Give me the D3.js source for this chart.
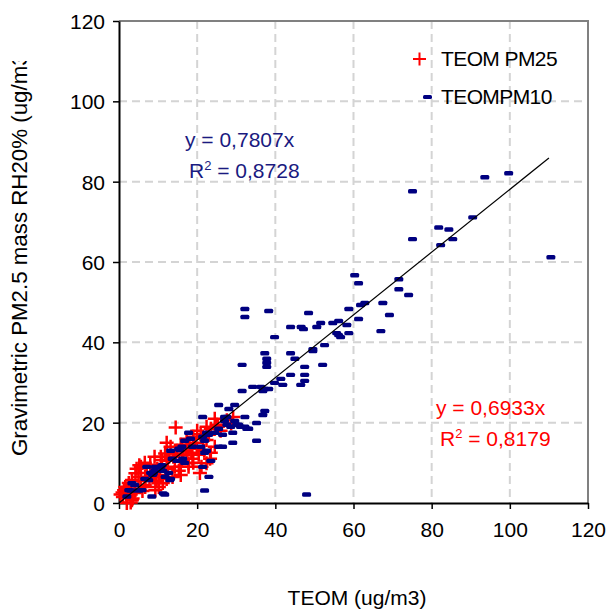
<!DOCTYPE html>
<html><head><meta charset="utf-8">
<script src="https://cdn.jsdelivr.net/npm/d3@7"></script>
<style>body{margin:0;background:#fff}svg{display:block}text{font-family:"Liberation Sans",Arial,sans-serif}</style>
</head><body>
<svg id="c" width="609" height="611"></svg>
<script>
const xTicks=[0,20,40,60,80,100,120];
const yTicks=[0,20,40,60,80,100,120];
const pm10=[[110.5,61.2],[99.7,82.1],[93.6,81.1],[90.5,71.1],[85.4,65.7],[84.4,68.1],[82.3,64.2],[81.8,68.6],[75.1,77.6],[75.1,65.7],[74.1,51.8],[71.6,55.7],[71.6,53.2],[69.2,46.8],[67.5,49.8],[67.0,42.8],[62.9,49.8],[61.8,49.3],[61.3,54.7],[61.3,45.8],[60.3,56.7],[58.8,48.3],[58.8,42.3],[58.3,44.3],[56.7,41.3],[56.2,41.8],[56.2,45.3],[55.7,42.3],[54.7,44.8],[52.6,39.3],[52.1,34.4],[51.6,44.8],[50.6,43.8],[49.6,38.3],[49.6,37.8],[48.5,47.3],[48.0,2.1],[47.5,33.9],[47.5,31.9],[47.5,30.4],[47.2,43.3],[46.6,43.8],[46.5,29.4],[45.0,35.9],[43.9,43.8],[43.9,37.3],[43.9,31.9],[41.9,29.4],[41.4,30.9],[39.8,41.3],[39.8,29.9],[38.3,47.8],[38.3,28.4],[37.8,35.9],[37.8,34.9],[37.8,33.9],[37.3,37.3],[37.3,28.4],[37.3,22.9],[36.8,27.9],[36.8,21.9],[36.3,28.9],[35.2,19.9],[35.2,15.5],[34.2,28.9],[33.2,18.5],[32.7,18.5],[32.2,48.3],[32.2,46.3],[32.2,21.4],[32.2,19.0],[31.5,34.4],[31.5,27.9],[31.1,19.0],[30.6,19.5],[30.1,19.5],[29.6,24.4],[29.6,20.4],[29.1,17.5],[29.1,15.0],[28.6,19.0],[28.1,23.4],[27.6,21.4],[27.6,19.5],[27.0,21.4],[27.0,20.4],[26.5,17.0],[26.5,14.0],[25.5,24.4],[25.5,18.5],[25.5,14.0],[24.5,17.5],[23.5,10.5],[23.0,6.5],[22.9,17.0],[22.4,17.5],[22.4,13.0],[21.9,15.5],[21.9,12.5],[21.9,3.1],[21.4,21.4],[21.4,16.5],[21.4,9.0],[20.9,14.0],[18.8,14.0],[18.3,16.0],[17.8,17.5],[16.8,15.5],[16.8,10.0],[16.3,11.0],[16.1,14.0],[15.6,13.2],[15.3,13.5],[14.8,10.5],[13.6,11.0],[13.2,13.0],[13.2,6.0],[13.0,5.7],[12.7,7.5],[11.8,6.5],[11.7,2.1],[11.3,2.4],[11.2,8.0],[11.0,9.4],[10.7,9.0],[9.3,9.0],[9.1,8.0],[8.8,7.4],[8.6,7.0],[8.4,1.6],[8.1,7.5],[7.6,5.7],[7.1,9.0],[6.6,6.0],[5.9,3.2],[5.0,3.1],[4.0,4.5],[3.3,4.9],[3.0,3.1],[2.5,3.2],[2.0,1.6]];
const pm25=[[14.5,18.8],[20.0,18.0],[20.9,17.1],[22.4,19.0],[23.5,18.5],[25.0,19.5],[25.3,19.0],[24.5,21.0],[27.6,20.6],[29.2,21.4],[28.7,19.8],[24.5,14.0],[23.5,12.5],[22.4,15.7],[23.3,11.0],[19.9,13.5],[20.4,12.0],[18.8,11.0],[17.3,16.0],[15.8,14.5],[17.3,13.0],[12.2,15.0],[13.2,14.0],[12.2,10.5],[10.7,11.5],[9.1,11.5],[5.6,9.0],[4.5,8.5],[6.6,10.0],[5.2,9.4],[7.1,7.5],[8.6,6.5],[9.6,5.5],[11.2,5.0],[12.2,6.0],[14.3,9.0],[15.3,8.0],[13.7,6.5],[15.8,7.0],[2.0,3.6],[0.9,2.6],[0.4,2.1],[3.0,2.1],[3.5,1.1],[3.0,0.1],[2.0,0.0],[6.6,4.5],[5.6,5.5],[10.2,4.0],[17.8,9.0],[17.8,9.9],[15.6,9.0],[13.9,11.5],[22.4,9.9],[21.1,9.0],[20.7,7.5],[1.3,3.2],[1.6,4.0],[4.2,3.2],[6.7,6.5],[8.4,7.4],[11.0,10.7],[11.8,12.3],[14.4,12.3],[16.1,14.0],[16.1,10.7],[9.3,3.2],[6.7,4.0],[10.2,4.9],[3.3,5.7],[4.2,7.4],[3.3,0.7],[18.5,12.5],[19.5,15.0],[19.0,16.5],[21.5,16.0],[23.0,17.0],[26.0,18.0],[18.0,14.5],[14.8,13.0],[12.8,11.5],[9.8,8.5],[7.8,6.0],[5.0,6.5],[8.0,9.5],[10.5,7.0],[12.5,8.5],[16.5,12.0],[19.0,10.0],[21.8,13.0],[4.0,2.5],[1.0,1.5],[6.0,3.0],[2.5,5.0]];
const trendSlope=0.7807, trendMax=110;
const legendLabels=["TEOM PM25","TEOMPM10"];
const eq10=["y = 0,7807x","0,8728"], eq25=["y = 0,6933x","0,8179"];

const svg=d3.select("#c");
const L=119,R=588,T=21,B=503;
const x=d3.scaleLinear().domain([0,120]).range([L,R]);
const y=d3.scaleLinear().domain([0,120]).range([B,T]);

// gridlines
const grid=svg.append("g").attr("stroke","#d4d4d4").attr("stroke-width",2).attr("stroke-dasharray","8,5");
grid.selectAll(".gx").data(xTicks.slice(1,-1)).join("line").attr("x1",d=>x(d)).attr("x2",d=>x(d)).attr("y1",T).attr("y2",B);
grid.selectAll(".gy").data(yTicks.slice(1,-1)).join("line").attr("y1",d=>y(d)).attr("y2",d=>y(d)).attr("x1",L).attr("x2",R);
// frame top/right
svg.append("path").attr("d",`M${L},${T}H${R}V${B}`).attr("fill","none").attr("stroke","#808080").attr("stroke-width",2);

// axes
const xa=svg.append("g").attr("transform",`translate(0,${B})`).call(d3.axisBottom(x).tickValues(xTicks).tickSize(6).tickSizeOuter(0));
const ya=svg.append("g").attr("transform",`translate(${L},0)`).call(d3.axisLeft(y).tickValues(yTicks).tickSize(6).tickSizeOuter(0));
[xa,ya].forEach(a=>{a.select(".domain").attr("stroke","#000").attr("stroke-width",2);a.selectAll(".tick line").attr("stroke","#000").attr("stroke-width",1.5);a.selectAll("text").attr("font-size",21).attr("fill","#000").attr("font-family","Liberation Sans, Arial, sans-serif");});
xa.selectAll("text").attr("dy","0").attr("y",34);
ya.selectAll("text").attr("x",-14).attr("dy","0.35em");

// red crosses
const cr=svg.append("g").attr("stroke","#ff0000").attr("stroke-width",2.5).attr("fill","none");
cr.selectAll("path").data(pm25).join("path").attr("d",d=>`M${x(d[0])-7},${y(d[1])}h14M${x(d[0])},${y(d[1])-7}v14`);
// blue dashes
svg.append("g").selectAll("rect").data(pm10).join("rect").attr("x",d=>x(d[0])-4.5).attr("y",d=>y(d[1])-2.2).attr("width",9).attr("height",4.4).attr("rx",1.5).attr("fill","#000080");
// trend
svg.append("line").attr("x1",x(0)).attr("y1",y(0)).attr("x2",x(trendMax)).attr("y2",y(trendMax*trendSlope)).attr("stroke","#000").attr("stroke-width",1.2);

// legend
svg.append("path").attr("d",`M${413},59h13M${419.5},52.5v13`).attr("stroke","#ff0000").attr("stroke-width",2);
svg.append("rect").attr("x",423).attr("y",95).attr("width",9).attr("height",4).attr("rx",1.5).attr("fill","#000080");
svg.append("text").attr("x",441).attr("y",66).attr("font-size",21).attr("letter-spacing",-0.6).text(legendLabels[0]);
svg.append("text").attr("x",441).attr("y",104).attr("font-size",21).attr("letter-spacing",-0.6).text(legendLabels[1]);

// equations
function eq(xp,yp,lines,col){
  svg.append("text").attr("x",xp).attr("y",yp).attr("font-size",21).attr("fill",col).text(lines[0]);
  const t=svg.append("text").attr("x",xp+4).attr("y",yp+31).attr("font-size",21).attr("fill",col);
  t.append("tspan").text("R");
  t.append("tspan").attr("font-size",13).attr("dy",-8).text("2");
  t.append("tspan").attr("dy",8).text(" = "+lines[1]);
}
eq(185,147,eq10,"#1a1a80");
eq(436,415,eq25,"#ff0000");

// axis titles
svg.append("text").attr("x",357).attr("y",605).attr("text-anchor","middle").attr("font-size",21).text("TEOM (ug/m3)");
svg.append("clipPath").attr("id","yc").append("rect").attr("x",0).attr("y",61).attr("width",60).attr("height",520);
svg.append("g").attr("clip-path","url(#yc)").append("text").attr("transform","translate(27,456) rotate(-90)").attr("font-size",22.3).text("Gravimetric PM2.5 mass RH20% (ug/m3)");
</script>
</body></html>
